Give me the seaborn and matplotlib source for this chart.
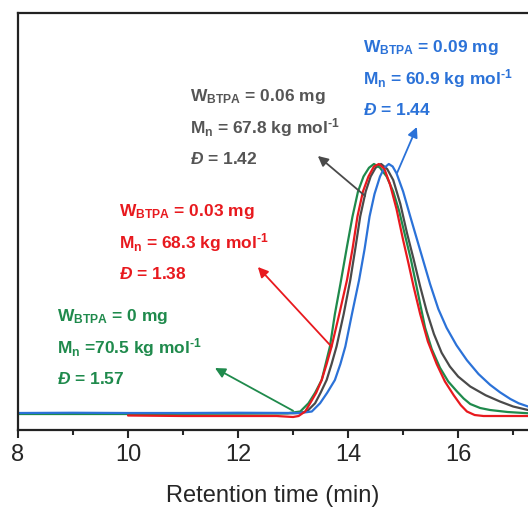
import matplotlib
matplotlib.use('Agg')
import matplotlib.pyplot as plt
import seaborn as sns
import pandas as pd

# Retention time (min) and normalized RI signal
t_0 = [8.0, 10.0, 12.0, 12.9, 13.13, 13.28, 13.4, 13.52, 13.67, 13.76, 13.86, 13.98, 14.08,
       14.18, 14.28, 14.38, 14.47, 14.58, 14.7, 14.82, 14.93, 15.04, 15.14, 15.22, 15.31,
       15.4, 15.52, 15.67, 15.82, 15.98, 16.1, 16.22, 16.4, 16.58, 16.9, 17.27]
i_0 = [0.0, 0.0, 0.002, 0.003, 0.01, 0.043, 0.085, 0.136, 0.27, 0.40, 0.52, 0.67, 0.79,
       0.89, 0.95, 0.985, 1.0, 0.985, 0.95, 0.89, 0.81, 0.71, 0.62, 0.536, 0.44,
       0.345, 0.26, 0.185, 0.13, 0.09, 0.062, 0.04, 0.024, 0.016, 0.008, 0.003]

t_003 = [10.0, 11.0, 12.0, 12.7, 13.0, 13.1, 13.22, 13.31, 13.42, 13.52, 13.61, 13.7, 13.84,
         13.98, 14.08, 14.17, 14.27, 14.37, 14.47, 14.56, 14.66, 14.76, 14.88, 15.0, 15.1,
         15.19, 15.31, 15.45, 15.61, 15.76, 15.92, 16.05, 16.16, 16.3, 16.46, 16.8, 17.27]
i_003 = [-0.006, -0.008, -0.008, -0.008, -0.012, -0.008, 0.01, 0.043, 0.085, 0.136, 0.2, 0.27, 0.40,
         0.536, 0.66, 0.79, 0.89, 0.95, 0.99, 1.0, 0.98, 0.92, 0.82, 0.696, 0.60,
         0.51, 0.40, 0.29, 0.20, 0.13, 0.075, 0.035, 0.01, -0.004, -0.008, -0.008, -0.008]

t_006 = [8.0, 10.0, 12.0, 13.0, 13.1, 13.25, 13.4, 13.5, 13.61, 13.7, 13.79, 13.92, 14.04,
         14.13, 14.22, 14.32, 14.41, 14.5, 14.6, 14.71, 14.82, 14.95, 15.07, 15.19, 15.31,
         15.43, 15.56, 15.7, 15.85, 16.0, 16.22, 16.5, 16.76, 17.0, 17.27]
i_006 = [0.003, 0.003, 0.003, 0.003, 0.004, 0.01, 0.043, 0.085, 0.136, 0.2, 0.27, 0.40, 0.536,
         0.66, 0.79, 0.89, 0.95, 0.985, 1.0, 0.98, 0.936, 0.84, 0.724, 0.62, 0.51,
         0.41, 0.32, 0.245, 0.19, 0.15, 0.11, 0.075, 0.05, 0.03, 0.016]

t_009 = [8.0, 9.0, 10.0, 11.0, 12.0, 13.1, 13.2, 13.34, 13.49, 13.62, 13.76, 13.86, 13.95,
         14.07, 14.2, 14.3, 14.39, 14.48, 14.58, 14.66, 14.74, 14.81, 14.88, 15.0, 15.13,
         15.25, 15.37, 15.49, 15.64, 15.79, 15.97, 16.16, 16.37, 16.58, 16.76, 16.95, 17.1, 17.27]
i_009 = [0.004, 0.005, 0.004, 0.004, 0.005, 0.004, 0.006, 0.01, 0.043, 0.085, 0.136, 0.2, 0.27,
         0.40, 0.536, 0.66, 0.79, 0.88, 0.95, 0.985, 1.0, 0.99, 0.963, 0.89, 0.79,
         0.70, 0.61, 0.52, 0.42, 0.345, 0.275, 0.215, 0.16, 0.117, 0.087, 0.06, 0.043, 0.03]

sup = r'$^{\text{-1}}$'
labels = [
    [r'W$_{\mathbf{BTPA}}$ = 0 mg', r'M$_{\mathbf{n}}$ =70.5 kg mol' + sup, r'$\mathit{Đ}$ = 1.57'],
    [r'W$_{\mathbf{BTPA}}$ = 0.03 mg', r'M$_{\mathbf{n}}$ = 68.3 kg mol' + sup, r'$\mathit{Đ}$ = 1.38'],
    [r'W$_{\mathbf{BTPA}}$ = 0.06 mg', r'M$_{\mathbf{n}}$ = 67.8 kg mol' + sup, r'$\mathit{Đ}$ = 1.42'],
    [r'W$_{\mathbf{BTPA}}$ = 0.09 mg', r'M$_{\mathbf{n}}$ = 60.9 kg mol' + sup, r'$\mathit{Đ}$ = 1.44'],
]
colors = ['#1f8a4c', '#e8191e', '#4a4a4a', '#2b72d8']
text_colors = ['#1f8a4c', '#e8191e', '#555555', '#2b72d8']

sns.set_style('ticks')
plt.rcParams['font.family'] = ['Liberation Sans', 'DejaVu Sans']
plt.rcParams['mathtext.fontset'] = 'custom'
plt.rcParams['mathtext.rm'] = 'Liberation Sans:bold'
plt.rcParams['mathtext.bf'] = 'Liberation Sans:bold'
plt.rcParams['mathtext.it'] = 'Liberation Sans:bold:italic'

fig = plt.figure(figsize=(5.28, 5.11), dpi=100)
ax = fig.add_axes([0.0341, 0.1585, 0.9659, 0.8161])

series = [(t_0, i_0), (t_003, i_003), (t_006, i_006), (t_009, i_009)]
# draw order: gray, green, blue, red on top
for k in [2, 0, 3, 1]:
    df = pd.DataFrame({'t': series[k][0], 'i': series[k][1]})
    sns.lineplot(data=df, x='t', y='i', color=colors[k], lw=1.6, ax=ax, sort=False)

ax.set_xlim(8, 17.27)
ax.set_ylim(-0.064, 1.604)
ax.set_xticks([8, 10, 12, 14, 16])
ax.set_xticks([9, 11, 13, 15, 17], minor=True)
ax.set_yticks([])
ax.set_ylabel('')
ax.set_xlabel('Retention time (min)', fontsize=17, labelpad=14)
ax.tick_params(axis='x', which='major', labelsize=17, length=6, width=1.5, direction='out', pad=4)
ax.tick_params(axis='x', which='minor', length=3.5, width=1.5, direction='out')
for side in ['left', 'bottom', 'top']:
    ax.spines[side].set_linewidth(1.6)
    ax.spines[side].set_color('#222222')
ax.spines['right'].set_visible(False)

# text block positions (data coords of the first line, left aligned) and line spacing
text_x = [8.71, 9.84, 11.13, 14.27]
text_y = [0.388, 0.808, 1.268, 1.464]
line_step = 0.124
for k in range(4):
    for j, s in enumerate(labels[k]):
        ax.text(text_x[k], text_y[k] - j * line_step, s, color=text_colors[k], fontsize=12.5,
                fontweight='bold', ha='left', va='center')

# arrows: (tail on curve) -> (head near text)
arrow_tail = [(13.0, 0.013), (13.70, 0.269), (14.31, 0.872), (14.89, 0.964)]
arrow_head = [(11.58, 0.184), (12.36, 0.588), (13.45, 1.032), (15.25, 1.148)]
for k in range(4):
    ax.annotate('', xy=arrow_head[k], xytext=arrow_tail[k],
                arrowprops=dict(arrowstyle='-|>', color=colors[k], lw=1.3,
                                mutation_scale=15, shrinkA=0, shrinkB=0))

fig.savefig('out.png', dpi=100)
